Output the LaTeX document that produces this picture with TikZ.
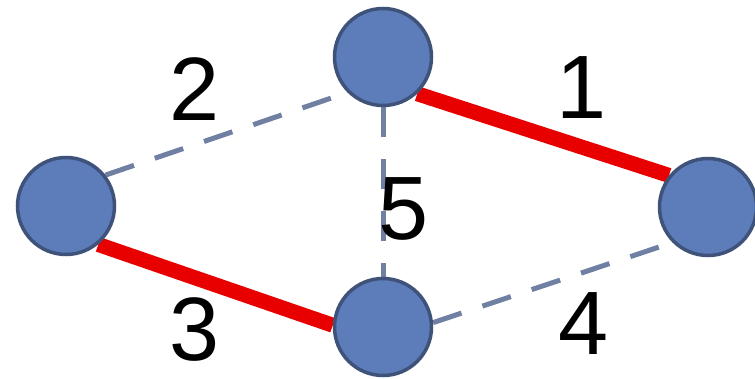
\documentclass[tikz,border=0pt]{standalone}
\usepackage{fontspec}
\setmainfont{Liberation Sans}
\usetikzlibrary{backgrounds}
\definecolor{nodefill}{RGB}{92,124,186}
\definecolor{nodeline}{RGB}{62,82,122}
\definecolor{dashcol}{RGB}{112,128,162}
\definecolor{redline}{RGB}{232,0,0}
\tikzset{
  vertex/.style={circle, draw=nodeline, fill=nodefill, line width=3.5pt, inner sep=0pt, minimum size=97pt},
  weak/.style={draw=dashcol, line width=5pt, dash pattern=on 30pt off 22pt},
  strong/.style={draw=redline, line width=15pt},
  lbl/.style={inner sep=0pt, font=\fontsize{90}{90}\selectfont}
}
\begin{document}
\begin{tikzpicture}[x=1pt, y=-1pt]
\useasboundingbox (0,0) rectangle (755,379);
\node[vertex] (T) at (383,57) {};
\node[vertex] (L) at (66,206) {};
\node[vertex] (R) at (708,207) {};
\node[vertex] (B) at (383,327) {};
\begin{scope}[on background layer]
  \draw[weak] (L.38) -- (T.225);
  \draw[weak] (T.south) -- (B.north);
  \draw[weak] (B.5) -- (R.225);
  \draw[strong] (T.-47) -- (R.141);
  \draw[strong] (L.-50) -- (B.178);
\end{scope}
\node[lbl] (l2) at (195,89.5) {2};
\node[lbl] (l1) at (582,88) {1};
\node[lbl] (l5) at (403.5,208.5) {5};
\node[lbl] (l3) at (195,329.5) {3};
\node[lbl] (l4) at (583.5,323.5) {4};
\end{tikzpicture}
\end{document}
